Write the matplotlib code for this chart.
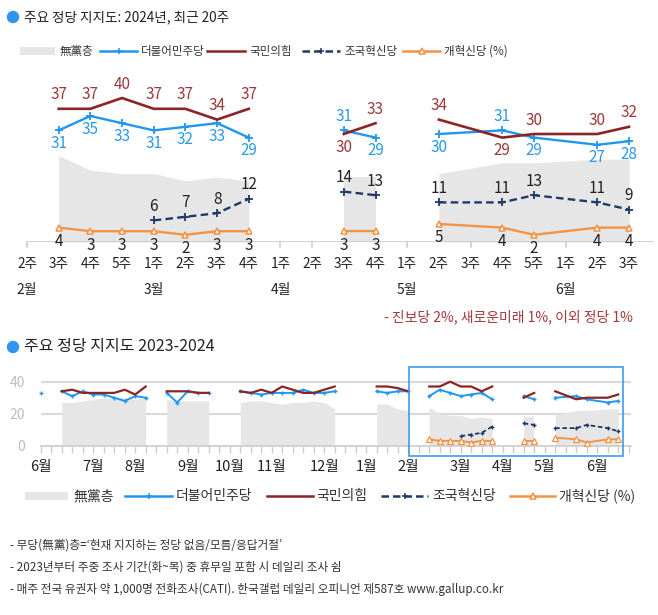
import numpy as np
import matplotlib
matplotlib.use('Agg')
import matplotlib.pyplot as plt
from matplotlib.patches import Rectangle, Circle
from matplotlib.lines import Line2D

plt.rcParams['font.family'] = ['Noto Sans CJK KR', 'DejaVu Sans']

nan = np.nan
# ---------------- recent 20 weeks ----------------
week_labels = ['2주', '3주', '4주', '5주', '1주', '2주', '3주', '4주', '1주', '2주',
               '3주', '4주', '1주', '2주', '3주', '4주', '5주', '1주', '2주', '3주']
month_labels = ['2월', '3월', '4월', '5월', '6월']
month_pos = [0, 4, 8, 12, 17]
poll_idx = [1, 2, 3, 4, 5, 6, 7, 10, 11, 13, 15, 16, 18, 19]
poll_seg = [0, 0, 0, 0, 0, 0, 0, 1, 1, 2, 2, 2, 2, 2]
dem = [31, 35, 33, 31, 32, 33, 29, 31, 29, 30, 31, 29, 27, 28]
ppp = [37, 37, 40, 37, 37, 34, 37, 30, 33, 34, 29, 30, 30, 32]
rebuild = [nan, nan, nan, 6, 7, 8, 12, 14, 13, 11, 11, 13, 11, 9]
reform = [4, 3, 3, 3, 2, 3, 3, 3, 3, 5, 4, 2, 4, 4]
indep = [24, 20, 19, 19, 17, 18, 17, 18, 18, 19, 22, 22, 23, 23]

# ---------------- 2023-06 .. 2024-02 (weekly index) ----------------
hist_week = [0, 2, 3, 4, 5, 6, 7, 8, 9, 10, 12, 13, 14, 15, 16,
             19, 20, 21, 22, 23, 24, 25, 26, 27, 28, 32, 33, 34, 35]
hist_seg = [0, 1, 1, 1, 1, 1, 1, 1, 1, 1, 2, 2, 2, 2, 2,
            3, 3, 3, 3, 3, 3, 3, 3, 3, 3, 4, 4, 4, 4]
hist_dem = [33, 34, 31, 34, 32, 32, 30, 28, 31, 30, 33, 27, 34, 33, 33,
            34, 33, 32, 33, 33, 33, 35, 33, 33, 34, 34, 33, 34, 34]
hist_ppp = [nan, 34, 35, 33, 33, 33, 33, 35, 32, 37, 34, 34, 34, 33, 33,
            34, 33, 35, 33, 37, 35, 33, 33, 35, 37, 37, 37, 36, 34]
hist_indep = [nan, 27, 27, 28, 29, 30, 30, 30, 29, 30, 29, 28, 28, 28, 28,
              27, 28, 28, 27, 26, 27, 27, 28, 27, 23, 26, 26, 23, 22]
recent_offset = 36
hist_month_labels = ['6월', '7월', '8월', '9월', '10월', '11월', '12월',
                     '1월', '2월', '3월', '4월', '5월', '6월']
hist_month_week = [0, 5, 9, 14, 18, 22, 27, 31, 35, 40, 44, 48, 53]

legend_names = ['無黨층', '더불어민주당', '국민의힘', '조국혁신당', '개혁신당 (%)']

BLUE = '#2196f0'
BLUE_T = '#2a9ae8'
RED = '#8b2525'
RED_T = '#9a3a3a'
NAVY = '#1f3a66'
ORANGE = '#f59345'
GRAY = '#e6e6e6'
TXT = '#222222'

W, H = 658, 615
fig = plt.figure(figsize=(W / 100, H / 100), dpi=100)

# ---------------- top chart ----------------
ax = fig.add_axes([27 / W, 1 - 242 / H, 19.8 * 31.684 / W, 180 / H])
ax.set_xlim(0, 19.8)
ax.set_ylim(0, 50)
ax.axis('off')

x = np.array(poll_idx, dtype=float)
seg = np.array(poll_seg)
d = np.array(dem, float); p = np.array(ppp, float)
r = np.array(rebuild, float); f = np.array(reform, float); g = np.array(indep, float)

for s in sorted(set(poll_seg)):
    m = seg == s
    ax.fill_between(x[m], 0, g[m], color=GRAY, lw=0, zorder=1)
    ax.plot(x[m], d[m], color=BLUE, lw=1.7, marker='+', ms=6, mew=1.3, zorder=4, clip_on=False)
    ax.plot(x[m], p[m], color=RED, lw=1.9, zorder=4, clip_on=False)
    ok = m & ~np.isnan(r)
    ax.plot(x[ok], r[ok], color=NAVY, lw=1.7, ls=(0, (3.2, 1.8)), marker='+', ms=6, mew=1.3,
            zorder=4, clip_on=False)
    ax.plot(x[m], f[m], color=ORANGE, lw=1.7, marker='^', ms=5, mfc='white', mew=1.1,
            zorder=4, clip_on=False)

ax.axhline(0, color='#c9c9c9', lw=1.2, zorder=2, xmin=0, xmax=1)
# ticks where no bottom label sits
for i in range(len(week_labels)):
    if i not in poll_idx:
        ax.plot([i, i], [0, -1.3], color='#c9c9c9', lw=1.1, clip_on=False, zorder=2)

fs_lab = 11
for xi, dv, pv, rv, fv in zip(x, d, p, r, f):
    dy_d, dy_p = (-9.5, 10) if dv < pv else (10, -9.5)
    ax.annotate(f'{int(dv)}', (xi, dv), xytext=(0, dy_d), textcoords='offset points',
                ha='center', va='center', color=BLUE_T, fontsize=fs_lab, zorder=5)
    ax.annotate(f'{int(pv)}', (xi, pv), xytext=(0, dy_p), textcoords='offset points',
                ha='center', va='center', color=RED_T, fontsize=fs_lab, zorder=5)
    if not np.isnan(rv):
        ax.annotate(f'{int(rv)}', (xi, rv), xytext=(0, 10), textcoords='offset points',
                    ha='center', va='center', color=TXT, fontsize=fs_lab, zorder=5)
    ax.annotate(f'{int(fv)}', (xi, fv), xytext=(0, -10), textcoords='offset points',
                ha='center', va='center', color=TXT, fontsize=fs_lab, zorder=5)

for i, wl in enumerate(week_labels):
    ax.annotate(wl, (i, 0), xytext=(0, -15.6), textcoords='offset points',
                ha='center', va='center', color=TXT, fontsize=9.8)
for mp, ml in zip(month_pos, month_labels):
    ax.annotate(ml, (mp, 0), xytext=(0, -34.6), textcoords='offset points',
                ha='center', va='center', color=TXT, fontsize=10)

# ---------------- bottom chart ----------------
bx = fig.add_axes([40.7 / W, 1 - 445.7 / H, 56.2 * 10.5 / W, 45 * 1.6 / H])
bx.set_xlim(0, 56.2)
bx.set_ylim(0, 45)
for sp in ['top', 'right', 'left']:
    bx.spines[sp].set_visible(False)
bx.spines['bottom'].set_color('#cccccc')
bx.spines['bottom'].set_linewidth(1.2)
bx.set_xticks(np.arange(0, 57))
bx.tick_params(axis='x', length=5, width=1.0, color='#cccccc', labelbottom=False)
bx.set_yticks([0, 20, 40])
bx.set_yticklabels(['0', '20', '40'])
bx.tick_params(axis='y', length=0, pad=11, labelcolor='#bdbdbd', labelsize=10)
for yv in [20, 40]:
    bx.axhline(yv, color='#d9d9d9', lw=1.5, zorder=0)

all_k = np.array(hist_week + [recent_offset + i for i in poll_idx], float)
all_seg = np.array(hist_seg + [s + 10 for s in poll_seg])
all_d = np.array(hist_dem + dem, float)
all_p = np.array(hist_ppp + ppp, float)
all_g = np.array(hist_indep + indep, float)
all_r = np.array([nan] * len(hist_week) + rebuild, float)
all_f = np.array([nan] * len(hist_week) + reform, float)

for s in sorted(set(all_seg)):
    m = all_seg == s
    gm = m & ~np.isnan(all_g)
    if gm.sum() > 1:
        bx.fill_between(all_k[gm], 0, all_g[gm], color=GRAY, lw=0, zorder=1)
    bx.plot(all_k[m], all_d[m], color=BLUE, lw=1.4, marker='+', ms=3.5, mew=1.0, zorder=4, clip_on=False)
    pm = m & ~np.isnan(all_p)
    bx.plot(all_k[pm], all_p[pm], color=RED, lw=1.6, zorder=4)
    rm = m & ~np.isnan(all_r)
    if rm.any():
        bx.plot(all_k[rm], all_r[rm], color=NAVY, lw=1.3, ls=(0, (2.5, 1.5)), marker='+',
                ms=3.5, mew=1.0, zorder=4)
    fm = m & ~np.isnan(all_f)
    if fm.any():
        bx.plot(all_k[fm], all_f[fm], color=ORANGE, lw=1.4, marker='^', ms=3.8, mfc='white',
                mew=0.9, zorder=4)

for mw, ml in zip(hist_month_week, hist_month_labels):
    bx.annotate(ml, (mw, 0), xytext=(0, -15.1), textcoords='offset points',
                ha='center', va='center', color=TXT, fontsize=10.5)

x0 = recent_offset - 0.9
x1 = recent_offset + len(week_labels) - 0.5
bx.add_patch(Rectangle((x0, -6.25), x1 - x0, 55.25, fill=False, ec='#3d9be9', lw=1.2,
                       clip_on=False, zorder=6))

# ---------------- overlay: titles, legends, notes ----------------
ov = fig.add_axes([0, 0, 1, 1])
ov.set_xlim(0, W)
ov.set_ylim(H, 0)
ov.axis('off')
ov.patch.set_alpha(0)


def title(y, text, size):
    ov.add_patch(Circle((13, y), 5.5, color='#2f95ee', zorder=3))
    ov.text(24, y, text, ha='left', va='center', fontsize=size, color=TXT)


title(17, '주요 정당 지지도: 2024년, 최근 20주', 9.8)
title(347, '주요 정당 지지도 2023-2024', 11.5)


def legend(y, xs, size, lw_scale=1.0):
    # xs: list of (line_x0, line_x1, text_x)
    styles = [
        dict(kind='patch'),
        dict(color=BLUE, ls='-', marker='+', mfc=BLUE),
        dict(color=RED, ls='-', marker=None, mfc=None),
        dict(color=NAVY, ls=(0, (3, 1.6)), marker='+', mfc=NAVY),
        dict(color=ORANGE, ls='-', marker='^', mfc='white'),
    ]
    for (a, b, tx), st, name in zip(xs, styles, legend_names):
        if st.get('kind') == 'patch':
            ov.add_patch(Rectangle((a, y - 4), b - a, 8, color=GRAY, lw=0))
        else:
            ov.add_line(Line2D([a, b], [y, y], color=st['color'], ls=st['ls'], lw=1.8 * lw_scale))
            if st['marker']:
                ov.add_line(Line2D([(a + b) / 2], [y], color=st['color'], marker=st['marker'],
                                   ms=5 if st['marker'] == '+' else 4.5, mfc=st['mfc'],
                                   mew=1.1, ls='none'))
        ov.text(tx, y, name, ha='left', va='center', fontsize=size, color='#333333')


legend(51, [(20, 55, 60), (100, 137, 141), (207, 245, 249), (302, 340, 344), (403, 440, 444)], 8.3)
legend(496, [(25, 68, 73), (125, 172, 176), (267, 313, 316), (381, 428, 432), (510, 555, 559)], 10)

ov.text(633, 317, '- 진보당 2%, 새로운미래 1%, 이외 정당 1%', ha='right', va='center',
        fontsize=10, color='#a23a3a')

notes = ["- 무당(無黨)층=‘현재 지지하는 정당 없음/모름/응답거절’",
         "- 2023년부터 주중 조사 기간(화~목) 중 휴무일 포함 시 데일리 조사 쉼",
         "- 매주 전국 유권자 약 1,000명 전화조사(CATI). 한국갤럽 데일리 오피니언 제587호 www.gallup.co.kr"]
for yy, t in zip([545, 567, 589], notes):
    ov.text(10, yy, t, ha='left', va='center', fontsize=8.4, color='#333333')

fig.savefig('out.png', dpi=100, facecolor='white')
